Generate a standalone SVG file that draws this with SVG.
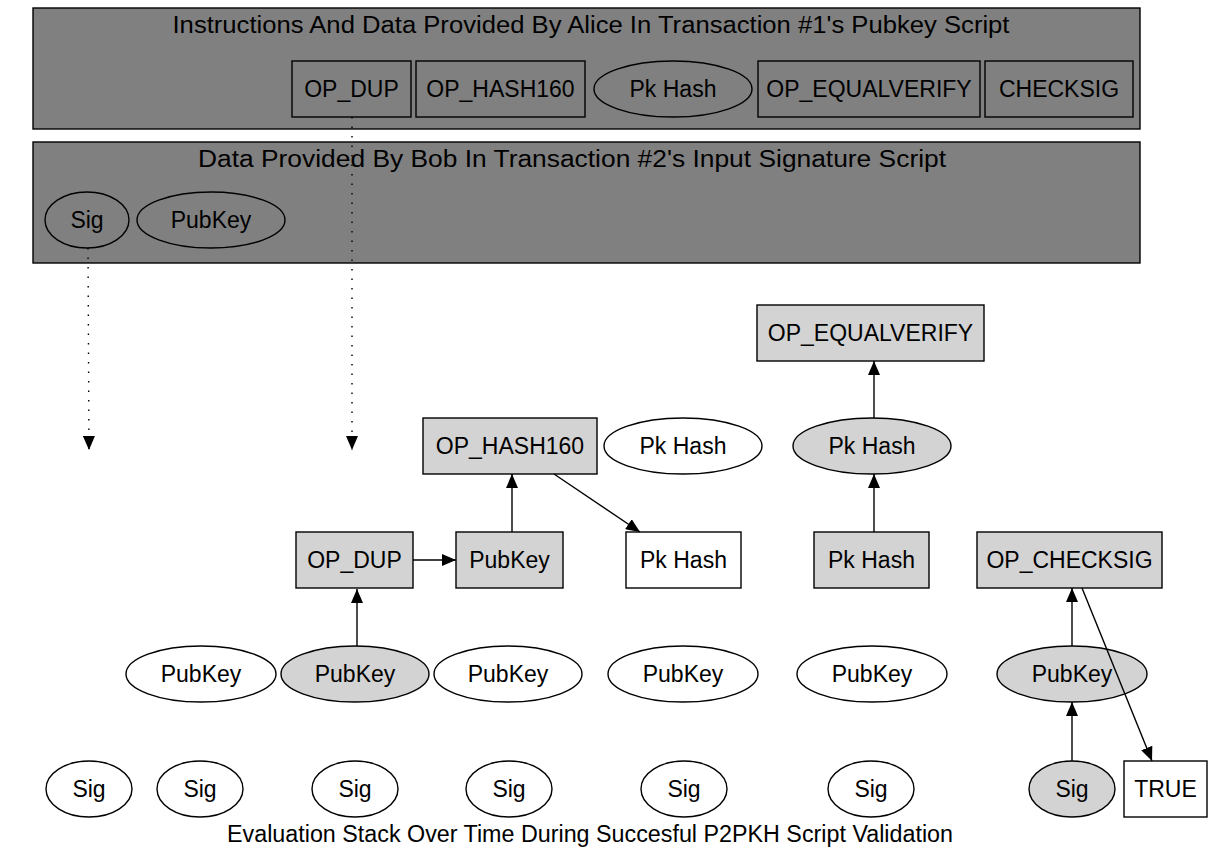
<svg xmlns="http://www.w3.org/2000/svg" width="1212" height="868" viewBox="0 0 1212 868">
<style>
text{font-family:"Liberation Sans",Arial,sans-serif;font-size:23px;fill:#000;text-anchor:middle}
.cl{fill:#808080;stroke:#000;stroke-width:1.4}
.n{fill:none;stroke:#000;stroke-width:1.4}
.w{fill:#fff;stroke:#000;stroke-width:1.4}
.g{fill:#d3d3d3;stroke:#000;stroke-width:1.4}
.e{fill:none;stroke:#000;stroke-width:1.4}
.d{fill:none;stroke:#000;stroke-width:1.4;stroke-dasharray:1.4 8.1}
</style>
<defs>
<marker id="ah" viewBox="0 0 14 12" refX="14" refY="6" markerWidth="14" markerHeight="12" orient="auto" markerUnits="userSpaceOnUse">
<path d="M0,0 L14,6 L0,12 z" fill="#000"/>
</marker>
</defs>
<rect width="1212" height="868" fill="#fff"/>
<g id="cluster_alice">
<rect class="cl" x="33" y="8" width="1107" height="121"/>
<text x="591" y="33" textLength="837" lengthAdjust="spacingAndGlyphs">Instructions And Data Provided By Alice In Transaction #1's Pubkey Script</text>
</g>
<g id="cluster_bob">
<rect class="cl" x="33" y="142" width="1107" height="121"/>
<text x="572" y="167" textLength="748" lengthAdjust="spacingAndGlyphs">Data Provided By Bob In Transaction #2's Input Signature Script</text>
</g>
<g id="a_dup"><rect class="n" x="292" y="61" width="119" height="56"/><text x="351.5" y="97">OP_DUP</text></g>
<g id="a_hash160"><rect class="n" x="416" y="61" width="169" height="56"/><text x="500.5" y="97">OP_HASH160</text></g>
<g id="a_pkhash"><ellipse class="n" cx="673" cy="89" rx="79" ry="28"/><text x="673" y="97">Pk Hash</text></g>
<g id="a_equalverify"><rect class="n" x="758" y="61" width="222" height="56"/><text x="869" y="97">OP_EQUALVERIFY</text></g>
<g id="a_checksig"><rect class="n" x="985" y="61" width="148" height="56"/><text x="1059" y="97">CHECKSIG</text></g>
<g id="b_sig"><ellipse class="n" cx="87" cy="220" rx="42" ry="28"/><text x="87" y="228">Sig</text></g>
<g id="b_pubkey"><ellipse class="n" cx="211" cy="220" rx="74" ry="28"/><text x="211" y="228">PubKey</text></g>

<g id="equalverify"><rect class="g" x="757" y="305" width="227" height="56"/><text x="870.5" y="341">OP_EQUALVERIFY</text></g>
<g id="hash160"><rect class="g" x="423" y="418" width="174" height="56"/><text x="510" y="454">OP_HASH160</text></g>
<g id="pkhash_e1"><ellipse class="w" cx="683" cy="446" rx="79" ry="28"/><text x="683" y="454">Pk Hash</text></g>
<g id="pkhash_e2"><ellipse class="g" cx="872" cy="446" rx="79" ry="28"/><text x="872" y="454">Pk Hash</text></g>
<g id="dup"><rect class="g" x="296" y="532" width="117" height="56"/><text x="354.5" y="568">OP_DUP</text></g>
<g id="pubkey_box"><rect class="g" x="456" y="532" width="107" height="56"/><text x="509.5" y="568">PubKey</text></g>
<g id="pkhash_b1"><rect class="w" x="626" y="532" width="115" height="56"/><text x="683.5" y="568">Pk Hash</text></g>
<g id="pkhash_b2"><rect class="g" x="814" y="532" width="115" height="56"/><text x="871.5" y="568">Pk Hash</text></g>
<g id="checksig"><rect class="g" x="977" y="532" width="185" height="56"/><text x="1069.5" y="568">OP_CHECKSIG</text></g>
<g id="pubkey1"><ellipse class="w" cx="201" cy="674" rx="75" ry="28"/><text x="201" y="682">PubKey</text></g>
<g id="pubkey2"><ellipse class="g" cx="355" cy="674" rx="74" ry="28"/><text x="355" y="682">PubKey</text></g>
<g id="pubkey3"><ellipse class="w" cx="508" cy="674" rx="74" ry="28"/><text x="508" y="682">PubKey</text></g>
<g id="pubkey4"><ellipse class="w" cx="683" cy="674" rx="75" ry="28"/><text x="683" y="682">PubKey</text></g>
<g id="pubkey5"><ellipse class="w" cx="872" cy="674" rx="75" ry="28"/><text x="872" y="682">PubKey</text></g>
<g id="pubkey6"><ellipse class="g" cx="1072" cy="674" rx="75" ry="28"/><text x="1072" y="682">PubKey</text></g>
<g id="sig1"><ellipse class="w" cx="89" cy="789" rx="43" ry="28"/><text x="89" y="797">Sig</text></g>
<g id="sig2"><ellipse class="w" cx="200" cy="789" rx="43" ry="28"/><text x="200" y="797">Sig</text></g>
<g id="sig3"><ellipse class="w" cx="355" cy="789" rx="43" ry="28"/><text x="355" y="797">Sig</text></g>
<g id="sig4"><ellipse class="w" cx="509" cy="789" rx="43" ry="28"/><text x="509" y="797">Sig</text></g>
<g id="sig5"><ellipse class="w" cx="684" cy="789" rx="43" ry="28"/><text x="684" y="797">Sig</text></g>
<g id="sig6"><ellipse class="w" cx="871" cy="789" rx="43" ry="28"/><text x="871" y="797">Sig</text></g>
<g id="sig7"><ellipse class="g" cx="1072" cy="789" rx="43" ry="28"/><text x="1072" y="797">Sig</text></g>
<g id="true"><rect class="w" x="1124" y="761" width="83" height="56"/><text x="1165.5" y="797">TRUE</text></g>

<g id="caption"><text x="590" y="842" textLength="726" lengthAdjust="spacingAndGlyphs">Evaluation Stack Over Time During Succesful P2PKH Script Validation</text></g>

<g id="connectors">
<line class="d" x1="88" y1="248" x2="89" y2="450" marker-end="url(#ah)"/>
<line class="d" x1="352" y1="117" x2="352" y2="450" marker-end="url(#ah)"/>
<line class="e" x1="357" y1="646" x2="357" y2="589" marker-end="url(#ah)"/>
<line class="e" x1="413" y1="560" x2="456" y2="560" marker-end="url(#ah)"/>
<line class="e" x1="512" y1="532" x2="512" y2="474" marker-end="url(#ah)"/>
<line class="e" x1="554" y1="474" x2="640" y2="532" marker-end="url(#ah)"/>
<line class="e" x1="874" y1="532" x2="874" y2="474" marker-end="url(#ah)"/>
<line class="e" x1="874" y1="418" x2="874" y2="361" marker-end="url(#ah)"/>
<line class="e" x1="1072" y1="761" x2="1072" y2="702" marker-end="url(#ah)"/>
<line class="e" x1="1072" y1="646" x2="1072" y2="588" marker-end="url(#ah)"/>
<line class="e" x1="1082" y1="588" x2="1152" y2="761" marker-end="url(#ah)"/>
</g>
</svg>
